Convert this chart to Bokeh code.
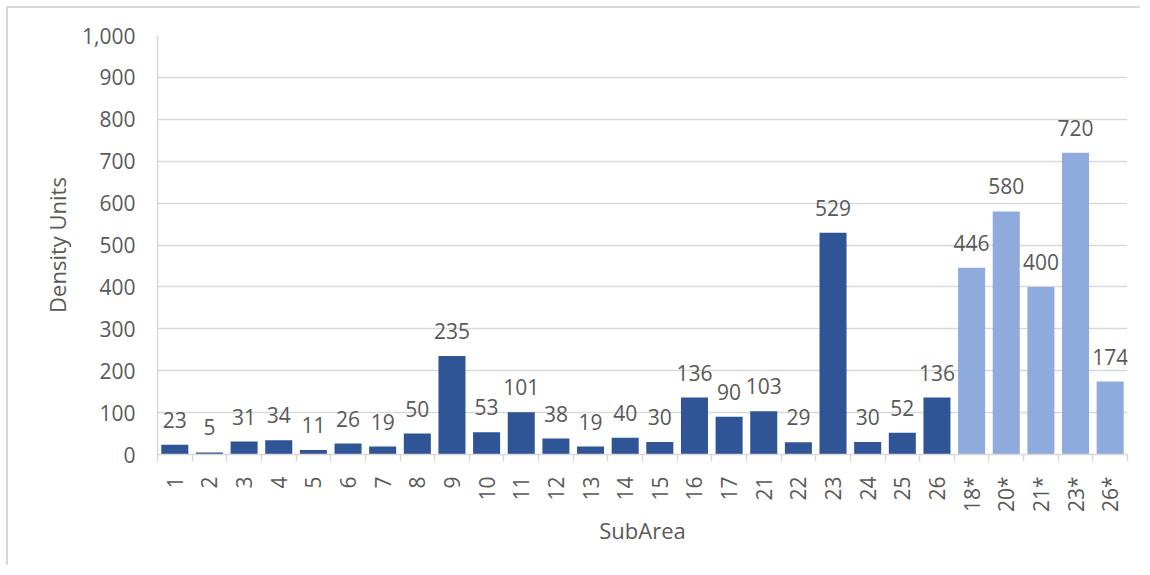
from bokeh.plotting import figure
from bokeh.models import (Range1d, FixedTicker, CustomJSTickFormatter,
                          NumeralTickFormatter, ColumnDataSource)
from bokeh.core.properties import value
from bokeh.embed import file_html
from bokeh.resources import INLINE
import math

# ---- data ----
subareas = ["1", "2", "3", "4", "5", "6", "7", "8", "9", "10", "11", "12", "13",
            "14", "15", "16", "17", "21", "22", "23", "24", "25", "26",
            "18*", "20*", "21*", "23*", "26*"]
density = [23, 5, 31, 34, 11, 26, 19, 50, 235, 53, 101, 38, 19,
           40, 30, 136, 90, 103, 29, 529, 30, 52, 136,
           446, 580, 400, 720, 174]
starred = [s.endswith("*") for s in subareas]
y_ticks = [0, 100, 200, 300, 400, 500, 600, 700, 800, 900, 1000]

DARK = "#2F5597"
LIGHT = "#8FAADC"
GRID = "#d9d9d9"
TXT = "#595959"
FONT = "Open Sans"
FS = "21px"
FS_TITLE = "22px"

n = len(subareas)
centers = [i + 0.5 for i in range(n)]
bounds = [float(i) for i in range(n + 1)]

src = ColumnDataSource(dict(
    x=centers,
    top=density,
    color=[LIGHT if s else DARK for s in starred],
    label=[str(v) for v in density],
))

p = figure(width=1134, height=559, output_backend="svg", toolbar_location=None,
           x_range=Range1d(0, n), y_range=Range1d(0, 1000),
           min_border_left=149, min_border_top=27, min_border_right=15,
           min_border_bottom=113)
p.styles = {"border-top": "2px solid #d9d9d9", "border-left": "2px solid #d9d9d9",
            "margin-top": "6px", "margin-left": "6px"}
p.outline_line_color = None
p.background_fill_color = "white"
p.border_fill_color = "white"

p.vbar(x="x", top="top", width=0.78, color="color", line_color=None, source=src)
p.text(x="x", y="top", text="label", source=src, text_align="center",
       text_baseline="alphabetic", y_offset=-25, text_color=TXT,
       text_font=value(FONT), text_font_size=FS)

# grid
p.xgrid.grid_line_color = None
p.ygrid.grid_line_color = GRID
p.ygrid.grid_line_width = 1.5

# x axis
xa = p.xaxis[0]
xa.ticker = FixedTicker(ticks=centers, minor_ticks=bounds)
xa.formatter = CustomJSTickFormatter(args=dict(labels=subareas),
                                     code="return labels[Math.floor(tick)] || '';")
xa.major_label_orientation = math.pi / 2
xa.major_tick_line_color = None
xa.minor_tick_line_color = GRID
xa.minor_tick_line_width = 1.5
xa.minor_tick_out = 7
xa.minor_tick_in = 0
xa.axis_line_color = GRID
xa.axis_line_width = 1.5
xa.major_label_standoff = 15
xa.major_label_text_color = TXT
xa.major_label_text_font = FONT
xa.major_label_text_font_size = FS
xa.axis_label = "SubArea"
xa.axis_label_text_font = FONT
xa.axis_label_text_font_size = FS_TITLE
xa.axis_label_text_font_style = "normal"
xa.axis_label_text_color = TXT
xa.axis_label_standoff = 0

# y axis
ya = p.yaxis[0]
ya.ticker = FixedTicker(ticks=y_ticks)
ya.formatter = NumeralTickFormatter(format="0,0")
ya.major_tick_line_color = None
ya.minor_tick_line_color = None
ya.axis_line_color = GRID
ya.axis_line_width = 1.5
ya.major_label_standoff = 16
ya.major_label_text_color = TXT
ya.major_label_text_font = FONT
ya.major_label_text_font_size = FS
ya.axis_label = "Density Units"
ya.axis_label_text_font = FONT
ya.axis_label_text_font_size = FS_TITLE
ya.axis_label_text_font_style = "normal"
ya.axis_label_text_color = TXT
ya.axis_label_standoff = 7

open("out.html", "w").write(file_html(p, INLINE))
